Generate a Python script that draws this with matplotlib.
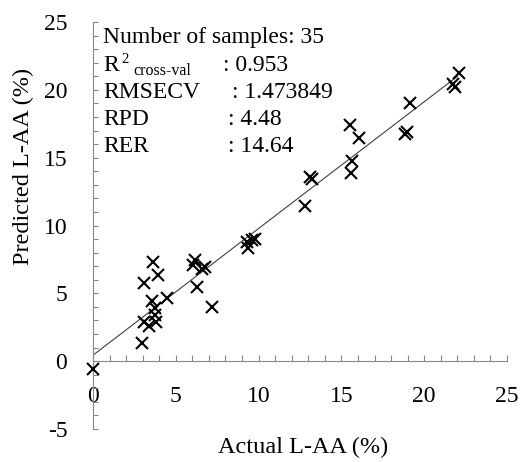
import matplotlib
matplotlib.use("Agg")
import matplotlib.pyplot as plt
from matplotlib.ticker import MultipleLocator
import numpy as np

plt.rcParams['font.family'] = ['Liberation Serif', 'DejaVu Serif']
plt.rcParams['axes.unicode_minus'] = False

# Data
actual = [0.0, 2.93, 3.06, 3.64, 3.91, 3.08, 3.41, 3.56, 3.74, 3.83, 4.45, 3.77,
          6.06, 6.16, 6.56, 6.76, 6.31, 7.17, 9.28, 9.33, 9.58, 9.78, 12.8,
          13.1, 13.2, 15.52, 16.08, 15.62, 15.58, 18.94, 18.84, 19.14, 22.12,
          21.76, 21.86]
predicted = [-0.55, 1.36, 5.75, 7.3, 6.36, 2.9, 2.56, 4.46, 3.39, 2.9, 4.62, 3.9,
             7.07, 7.44, 6.83, 6.95, 5.45, 4.0, 8.79, 8.33, 8.92, 9.04, 11.46,
             13.58, 13.46, 17.44, 16.48, 14.74, 13.88, 16.9, 16.73, 19.01, 21.27,
             20.46, 20.21]
fit_slope = 0.934
fit_intercept = 0.44
fit_x_range = [0.0, 22.0]

x_ticks = [0, 5, 10, 15, 20, 25]
y_ticks = [-5, 0, 5, 10, 15, 20, 25]

stat_names = ["RMSECV", "RPD", "RER"]
stat_values = [": 1.473849", ": 4.48", ": 14.64"]

W, H = 528, 462
fig = plt.figure(figsize=(W / 100, H / 100), dpi=100)
ax = fig.add_axes([93 / W, 1 - 429 / H, (507 - 93) / W, (429 - 22) / H])
ax.set_xlim(0, 25)
ax.set_ylim(-5, 25)

axis_color = '#868686'
for s in ['top', 'right']:
    ax.spines[s].set_visible(False)
ax.spines['bottom'].set_position(('data', 0))
for s in ['bottom', 'left']:
    ax.spines[s].set_color(axis_color)
    ax.spines[s].set_linewidth(0.8)

ax.set_xticks(x_ticks)
ax.set_yticks(y_ticks)
ax.set_xticklabels([str(v) for v in x_ticks])
ax.set_yticklabels([str(v) for v in y_ticks])
ax.xaxis.set_minor_locator(MultipleLocator(1))
ax.yaxis.set_minor_locator(MultipleLocator(1))
ax.tick_params(axis='x', which='both', direction='in', length=4.3, width=0.8,
               color=axis_color, pad=18, labelsize=17)
ax.tick_params(axis='y', which='both', direction='in', length=3.6, width=0.8,
               color=axis_color, pad=18.5, labelsize=17)

# Fit line
fx = np.array(fit_x_range)
ax.plot(fx, fit_slope * fx + fit_intercept, color='#404040', lw=0.8, zorder=2)

# Points
ax.plot(actual, predicted, linestyle='none', marker='x', markersize=8.6,
        markeredgewidth=1.5, color='black', clip_on=False, zorder=3)

# Axis labels
fig.text(303 / W, 1 - 447 / H, "Actual L-AA (%)", ha='center', va='center', fontsize=17.5)
fig.text(23 / W, 1 - 166 / H, "Predicted L-AA (%)", ha='center', va='center',
         rotation=90, fontsize=17.5)

# Statistics text
def ptxt(x, y, s, size=17, **kw):
    fig.text(x / W, 1 - y / H, s, ha='left', va='baseline', fontsize=size, **kw)

ptxt(103, 43, "Number of samples: 35")
ptxt(103, 71, "R")
ptxt(121, 63, "2", size=10.5)
ptxt(133, 75, "cross-val", size=11.5)
ptxt(223, 71, ": 0.953")
rows_y = [98, 125, 152]
cols_x = [232, 228, 228]
for name, val, yy, xx in zip(stat_names, stat_values, rows_y, cols_x):
    ptxt(103, yy, name)
    ptxt(xx, yy, val)

fig.savefig("out.png", dpi=100)
